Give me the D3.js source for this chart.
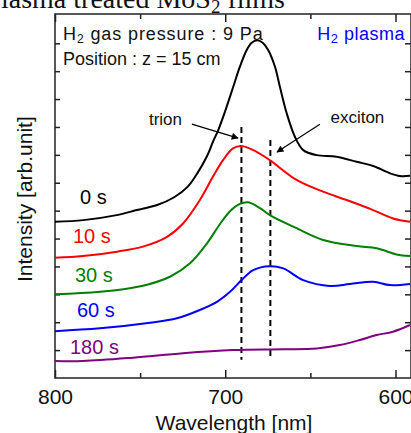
<!DOCTYPE html>
<html lang="en">
<head>
  <meta charset="UTF-8">
  <title>PL spectra</title>
  <style type="text/css">
    body{
      margin: 0;
      background: #fff;
      font-family: "Liberation Sans", Arial, sans-serif;
      overflow: hidden;
    }
    .axis path,
    .axis line{
      stroke: #222;
      stroke-width: 1.5px;
      fill: none;
    }
    .axis text{
      font-family: "Liberation Sans", Arial, sans-serif;
      font-size: 21px;
      fill: #111;
    }
    .curve{
      fill: none;
      stroke-width: 2px;
    }
    .note{
      font-size: 17px;
      fill: #111;
    }
    .cond{
      font-size: 18px;
      fill: #111;
    }
  </style>
  <script src="https://cdn.jsdelivr.net/npm/d3@7"></script>
</head>
<body>
<script type="text/javascript">
  // spectra, [wavelength nm, intensity arb.]
  var t0s = [[800,5.60],[783.4,5.66],[763.8,5.84],[752,6.02],[740,6.20],[730,6.48],[722,6.86],[716.8,7.30],
    [710.9,7.93],[707,8.50],[704.1,8.89],[699.2,9.72],[695.3,10.44],[691.4,11.16],[687.4,11.76],[684.5,12.02],
    [681.2,12.11],[678,12.02],[674.8,11.76],[670.8,11.16],[667.9,10.44],[663.9,9.49],[659.1,8.65],[654.2,8.17],
    [646.3,7.99],[634.6,7.93],[622.8,7.75],[613.1,7.60],[603.3,7.34],[597.4,7.24],[591.5,7.25]];
  var t10s = [[800,4.31],[783.6,4.37],[763.6,4.53],[748.3,4.71],[734.2,5.06],[724.8,5.54],[714.9,6.38],[707.2,7.22],
    [701.3,7.81],[695.5,8.23],[690.4,8.32],[681.6,8.11],[673.8,7.81],[658.1,7.10],[642.5,6.68],[628.7,6.38],
    [613.1,6.02],[601.4,5.72],[591.5,5.60]];
  var t30s = [[800,3.00],[773.6,3.09],[748.3,3.31],[732.5,3.63],[720.7,4.11],[710.7,4.83],[703.1,5.52],[697.2,5.98],
    [691.4,6.24],[686.5,6.30],[679.6,6.09],[673.8,5.84],[658.1,5.37],[642.5,4.95],[622.8,4.73],[611.1,4.65],
    [599.4,4.43],[591.5,4.37]];
  var t60s = [[800,1.68],[773.6,1.78],[744.2,1.98],[728.4,2.14],[714.9,2.44],[704.9,2.73],[697.2,3.09],[690.4,3.51],
    [683.6,3.87],[673.8,4.01],[665.9,3.93],[654.2,3.51],[638.5,3.30],[626.8,3.37],[613.1,3.45],[603.3,3.33],[591.5,3.37]];
  var t180s = [[800,0.61],[783.6,0.61],[754.2,0.73],[724.8,0.89],[695.5,1.00],[666.1,1.03],[646.2,1.06],[632.7,1.18],
    [621,1.36],[611.1,1.54],[601.5,1.66],[591.5,1.90]];

  var seriesNames = ['0 s', '10 s', '30 s', '60 s', '180 s'];
  var seriesData = [t0s, t10s, t30s, t60s, t180s];
  var seriesColors = ['#000000', '#ff0000', '#008000', '#0000ff', '#800080'];

  var xTicks = [800, 700, 600];
  var xMinor = [750, 650];
  var yTicks = [1, 2, 3, 4, 5, 6, 7, 8, 9, 10, 11, 12];

  // peak markers: trion, exciton
  var peakNames = ['trion', 'exciton'];
  var peakWl = [690.5, 673.5];
  var peakTop = [9.0, 8.53];

  var W = 411, H = 433;
  var plot = {left: 55, top: 14, right: 411, bottom: 378};

  var svg = d3.select('body').append('svg')
    .attr('width', W)
    .attr('height', H);

  var xScale = d3.scaleLinear().domain([800, 590.9]).range([plot.left, plot.right]);
  var yScale = d3.scaleLinear().domain([0, 13.05]).range([plot.bottom, plot.top]);

  // title, cut at top of the crop
  var title = svg.append('text')
    .attr('x', 285)
    .attr('y', 8)
    .attr('text-anchor', 'end')
    .style('font-family', '"Liberation Serif", "Times New Roman", serif')
    .style('font-size', '28px')
    .style('fill', '#111');
  title.append('tspan').text('Plasma treated MoS');
  title.append('tspan').attr('baseline-shift', '-25%').style('font-size', '19px').text('2');
  title.append('tspan').text(' films');

  // frame
  svg.append('rect')
    .attr('x', plot.left).attr('y', plot.top)
    .attr('width', plot.right - plot.left).attr('height', plot.bottom - plot.top)
    .style('fill', 'none').style('stroke', '#222').style('stroke-width', 1.5);

  // axes, ticks inward
  var xAxis = svg.append('g').attr('class', 'x axis')
    .attr('transform', 'translate(0,' + plot.bottom + ')')
    .call(d3.axisBottom(xScale).tickValues(xTicks).tickSize(-8).tickPadding(17).tickFormat(d3.format('d')));
  xAxis.selectAll('text').attr('dy', 0).attr('y', 26);
  svg.append('g').attr('class', 'x axis')
    .attr('transform', 'translate(0,' + plot.bottom + ')')
    .call(d3.axisBottom(xScale).tickValues(xMinor).tickSize(-5).tickFormat(''));
  svg.append('g').attr('class', 'x axis')
    .attr('transform', 'translate(0,' + plot.top + ')')
    .call(d3.axisTop(xScale).tickValues(xTicks).tickSize(-8).tickFormat(''));
  svg.append('g').attr('class', 'x axis')
    .attr('transform', 'translate(0,' + plot.top + ')')
    .call(d3.axisTop(xScale).tickValues(xMinor).tickSize(-5).tickFormat(''));
  svg.append('g').attr('class', 'y axis')
    .attr('transform', 'translate(' + plot.left + ',0)')
    .call(d3.axisLeft(yScale).tickValues(yTicks).tickSize(-5).tickFormat(''));
  svg.append('g').attr('class', 'y axis')
    .attr('transform', 'translate(' + plot.right + ',0)')
    .call(d3.axisRight(yScale).tickValues(yTicks).tickSize(-6).tickFormat(''));
  svg.selectAll('.axis .domain').remove();

  // axis titles
  svg.append('text')
    .attr('x', 234)
    .attr('y', 430)
    .attr('text-anchor', 'middle')
    .style('font-size', '21px')
    .style('fill', '#111')
    .text('Wavelength [nm]');

  svg.append('text')
    .attr('transform', 'translate(32,282) rotate(-90)')
    .attr('text-anchor', 'start')
    .style('font-size', '21px')
    .style('fill', '#111')
    .text('Intensity [arb.unit]');

  // dashed peak markers
  svg.selectAll('.peak')
    .data(peakWl)
    .enter().append('line')
    .attr('class', 'peak')
    .attr('x1', function(d){ return xScale(d); })
    .attr('x2', function(d){ return xScale(d); })
    .attr('y1', function(d, i){ return yScale(peakTop[i]); })
    .attr('y2', yScale(0.65))
    .style('stroke', '#000')
    .style('stroke-width', 2)
    .style('stroke-dasharray', '6,4');

  // spectra
  var line = d3.line()
    .x(function(d){ return xScale(d[0]); })
    .y(function(d){ return yScale(d[1]); })
    .curve(d3.curveCatmullRom.alpha(0.5));

  svg.selectAll('.curve')
    .data(seriesData)
    .enter().append('path')
    .attr('class', 'curve')
    .attr('d', line)
    .style('stroke', function(d, i){ return seriesColors[i]; });

  // curve labels
  var labelPos = [[80, 204], [73, 243], [75, 282], [77, 317], [70, 354]];
  svg.selectAll('.slabel')
    .data(seriesNames)
    .enter().append('text')
    .attr('class', 'slabel')
    .attr('x', function(d, i){ return labelPos[i][0]; })
    .attr('y', function(d, i){ return labelPos[i][1]; })
    .style('font-size', '20px')
    .style('fill', function(d, i){ return seriesColors[i]; })
    .text(function(d){ return d; });

  // arrows
  svg.append('defs').append('marker')
    .attr('id', 'head')
    .attr('viewBox', '0 0 10 10')
    .attr('refX', 9).attr('refY', 5)
    .attr('markerWidth', 9).attr('markerHeight', 7)
    .attr('markerUnits', 'userSpaceOnUse')
    .attr('orient', 'auto')
    .append('path').attr('d', 'M0,0L10,5L0,10z').style('fill', '#000');

  var arrowFrom = [[719.6, 9.10], [644.4, 9.10]];
  var arrowTo = [[692.5, 8.60], [669.6, 8.10]];
  var labelAt = [[735.1, 9.07], [622.4, 9.15]];

  peakNames.forEach(function(name, i){
    svg.append('line')
      .attr('x1', xScale(arrowFrom[i][0])).attr('y1', yScale(arrowFrom[i][1]))
      .attr('x2', xScale(arrowTo[i][0])).attr('y2', yScale(arrowTo[i][1]))
      .style('stroke', '#000').style('stroke-width', 1.2)
      .attr('marker-end', 'url(#head)');
    svg.append('text')
      .attr('class', 'note')
      .attr('x', xScale(labelAt[i][0]))
      .attr('y', yScale(labelAt[i][1]))
      .attr('text-anchor', 'middle')
      .text(name);
  });

  // conditions
  var c1 = svg.append('text').attr('class', 'cond').attr('x', 63).attr('y', 40)
    .style('letter-spacing', '0.9px');
  c1.append('tspan').text('H');
  c1.append('tspan').attr('baseline-shift', '-25%').style('font-size', '12px').text('2');
  c1.append('tspan').text(' gas pressure : 9 Pa');

  svg.append('text').attr('class', 'cond').attr('x', 63).attr('y', 65)
    .text('Position : z = 15 cm');

  var c3 = svg.append('text').attr('class', 'cond').attr('x', 405).attr('y', 40)
    .attr('text-anchor', 'end').style('fill', '#0000ff').style('letter-spacing', '0.5px');
  c3.append('tspan').text('H');
  c3.append('tspan').attr('baseline-shift', '-25%').style('font-size', '13px').text('2');
  c3.append('tspan').text(' plasma');
</script>
</body>
</html>
